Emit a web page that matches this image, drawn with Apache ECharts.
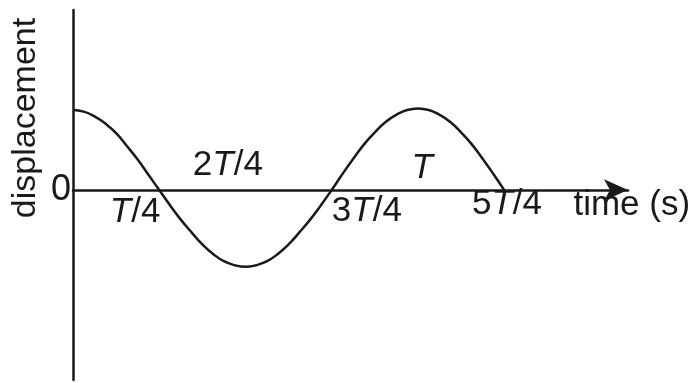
<!DOCTYPE html>
<html>
<head>
<meta charset="utf-8">
<script src="https://cdn.jsdelivr.net/npm/echarts@6/dist/echarts.min.js"></script>
<style>
  html, body { margin: 0; padding: 0; background: #fff; }
  #chart { width: 696px; height: 383px; }
</style>
</head>
<body>
<div id="chart"></div>
<script>
// Curve: time in units of T, displacement in units of amplitude
const times = [0, 0.03125, 0.0625, 0.09375, 0.125, 0.15625, 0.1875, 0.21875, 0.25,
               0.28125, 0.3125, 0.34375, 0.375, 0.40625, 0.4375, 0.46875, 0.5,
               0.53125, 0.5625, 0.59375, 0.625, 0.65625, 0.6875, 0.71875, 0.75,
               0.78125, 0.8125, 0.84375, 0.875, 0.90625, 0.9375, 0.96875, 1,
               1.03125, 1.0625, 1.09375, 1.125, 1.15625, 1.1875, 1.21875, 1.25];
const displacement = [1.0, 0.98, 0.92, 0.83, 0.71, 0.55, 0.38, 0.19, 0,
                      -0.19, -0.37, -0.53, -0.68, -0.8, -0.89, -0.94, -0.96,
                      -0.94, -0.89, -0.8, -0.68, -0.53, -0.37, -0.19, 0,
                      0.2, 0.39, 0.57, 0.72, 0.85, 0.94, 1.0, 1.02,
                      1.0, 0.94, 0.85, 0.72, 0.57, 0.39, 0.2, 0];

// Tick labels and where they sit on the drawing
const tickLabels = ['{i|T}/4', '2{i|T}/4', '3{i|T}/4', '{i|T}', '5{i|T}/4', 'time (s)'];
const tickPos = [[0.18, -0.28], [0.449, 0.31], [0.852, -0.27], [1.012, 0.27], [1.258, -0.18], [1.62, -0.19]];

const ink = '#1a1a1a';
const font = 'Liberation Sans, Arial, sans-serif';

const chart = echarts.init(document.getElementById('chart'));
chart.setOption({
    backgroundColor: '#fff',
    animation: false,
    grid: { left: 73, right: 68, top: 10, bottom: 3 },
    xAxis: {
        type: 'value', min: 0, max: 1.609,
        axisLine: { onZero: true, symbol: ['none', 'arrow'], symbolSize: [16, 24],
                    lineStyle: { color: ink, width: 2.5 } },
        axisTick: { show: false }, axisLabel: { show: false }, splitLine: { show: false }
    },
    yAxis: {
        type: 'value', min: -2.375, max: 2.25,
        axisLine: { show: true, lineStyle: { color: ink, width: 2.5 } },
        axisTick: { show: false }, splitLine: { show: false },
        axisLabel: { customValues: [0], formatter: v => v === 0 ? '0' : '', color: ink,
                     fontSize: 36, fontFamily: font, margin: 2 }
    },
    graphic: [{
        type: 'text', x: 26, y: 118, rotation: Math.PI / 2,
        style: { text: 'displacement', fill: ink, font: '34px ' + font,
                 textAlign: 'center', textVerticalAlign: 'middle' }
    }],
    series: [{
        type: 'line', data: times.map((t, i) => [t, displacement[i]]),
        smooth: true, showSymbol: false,
        lineStyle: { color: ink, width: 2.5 }
    }, {
        type: 'scatter', clip: false, symbolSize: 0, silent: true,
        itemStyle: { color: ink, opacity: 1 },
        data: tickPos.map((p, i) => ({ value: p, name: tickLabels[i] })),
        label: {
            show: true, position: 'inside', formatter: p => p.name,
            color: ink, fontSize: 35, fontFamily: font,
            rich: { i: { fontStyle: 'italic', fontSize: 35, fontFamily: font, color: ink } }
        }
    }]
});
</script>
</body>
</html>
